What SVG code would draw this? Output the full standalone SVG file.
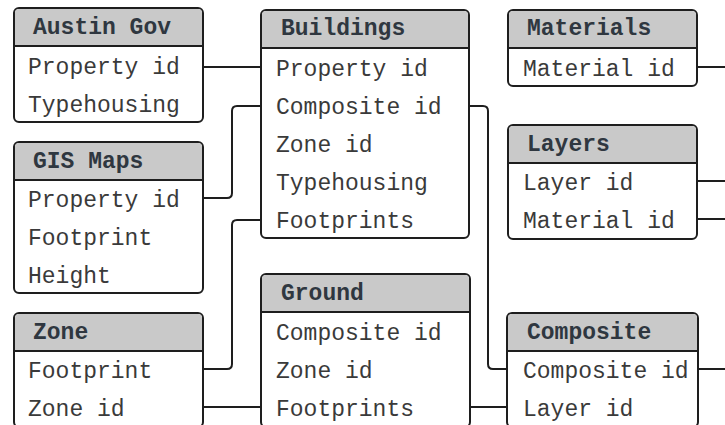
<svg xmlns="http://www.w3.org/2000/svg" width="725" height="425" viewBox="0 0 725 425">
  <style>
    .box { fill: #ffffff; stroke: #1e1e1e; stroke-width: 2; }
    .head { fill: #c9c9c9; }
    .sep { stroke: #1e1e1e; stroke-width: 2; }
    .title { font-family: "Liberation Mono", "DejaVu Sans Mono", monospace; font-size: 23px; font-weight: bold; fill: #2f3740; }
    .field { font-family: "Liberation Mono", "DejaVu Sans Mono", monospace; font-size: 23px; fill: #3a3a3a; }
    .link { fill: none; stroke: #1e1e1e; stroke-width: 2; }
  </style>
  <rect width="725" height="425" fill="#ffffff"/>

  <g id="connectors">
    <path class="link" d="M203,67 H261"/>
    <path class="link" d="M203,198 H227 Q232,198 232,193 V111 Q232,106 237,106 H261"/>
    <path class="link" d="M203,369 H227 Q232,369 232,364 V225 Q232,220 237,220 H261"/>
    <path class="link" d="M203,407 H261"/>
    <path class="link" d="M469,106 H483 Q488,106 488,111 V364 Q488,369 493,369 H507"/>
    <path class="link" d="M470,407 H507"/>
    <path class="link" d="M697,67 H725"/>
    <path class="link" d="M697,181 H725"/>
    <path class="link" d="M697,219 H725"/>
    <path class="link" d="M698,369 H725"/>
  </g>

  <g id="austin-gov">
    <rect class="box" x="14" y="8" width="189" height="114" rx="5"/>
    <path class="head" d="M15,46 V13 Q15,9 19,9 H198 Q202,9 202,13 V46 Z"/>
    <line class="sep" x1="14" y1="46" x2="203" y2="46"/>
    <text class="title" x="33" y="34">Austin Gov</text>
    <text class="field" x="28" y="74">Property id</text>
    <text class="field" x="28" y="112">Typehousing</text>
  </g>

  <g id="gis-maps">
    <rect class="box" x="14" y="142" width="189" height="151" rx="5"/>
    <path class="head" d="M15,180 V147 Q15,143 19,143 H198 Q202,143 202,147 V180 Z"/>
    <line class="sep" x1="14" y1="180" x2="203" y2="180"/>
    <text class="title" x="33" y="168">GIS Maps</text>
    <text class="field" x="28" y="207">Property id</text>
    <text class="field" x="28" y="245">Footprint</text>
    <text class="field" x="28" y="283">Height</text>
  </g>

  <g id="zone">
    <rect class="box" x="14" y="313" width="189" height="114" rx="5"/>
    <path class="head" d="M15,351 V318 Q15,314 19,314 H198 Q202,314 202,318 V351 Z"/>
    <line class="sep" x1="14" y1="351" x2="203" y2="351"/>
    <text class="title" x="33" y="339">Zone</text>
    <text class="field" x="28" y="378">Footprint</text>
    <text class="field" x="28" y="416">Zone id</text>
  </g>

  <g id="buildings">
    <rect class="box" x="261" y="10" width="208" height="228" rx="5"/>
    <path class="head" d="M262,48 V15 Q262,11 266,11 H464 Q468,11 468,15 V48 Z"/>
    <line class="sep" x1="261" y1="48" x2="469" y2="48"/>
    <text class="title" x="281" y="35">Buildings</text>
    <text class="field" x="276" y="76">Property id</text>
    <text class="field" x="276" y="114">Composite id</text>
    <text class="field" x="276" y="152">Zone id</text>
    <text class="field" x="276" y="190">Typehousing</text>
    <text class="field" x="276" y="228">Footprints</text>
  </g>

  <g id="ground">
    <rect class="box" x="261" y="274" width="209" height="153" rx="5"/>
    <path class="head" d="M262,312 V279 Q262,275 266,275 H465 Q469,275 469,279 V312 Z"/>
    <line class="sep" x1="261" y1="312" x2="470" y2="312"/>
    <text class="title" x="281" y="300">Ground</text>
    <text class="field" x="276" y="340">Composite id</text>
    <text class="field" x="276" y="378">Zone id</text>
    <text class="field" x="276" y="416">Footprints</text>
  </g>

  <g id="materials">
    <rect class="box" x="508" y="10" width="189" height="76" rx="5"/>
    <path class="head" d="M509,48 V15 Q509,11 513,11 H692 Q696,11 696,15 V48 Z"/>
    <line class="sep" x1="508" y1="48" x2="697" y2="48"/>
    <text class="title" x="527" y="35">Materials</text>
    <text class="field" x="523" y="76">Material id</text>
  </g>

  <g id="layers">
    <rect class="box" x="508" y="125" width="189" height="114" rx="5"/>
    <path class="head" d="M509,163 V130 Q509,126 513,126 H692 Q696,126 696,130 V163 Z"/>
    <line class="sep" x1="508" y1="163" x2="697" y2="163"/>
    <text class="title" x="527" y="151">Layers</text>
    <text class="field" x="523" y="190">Layer id</text>
    <text class="field" x="523" y="228">Material id</text>
  </g>

  <g id="composite">
    <rect class="box" x="507" y="313" width="191" height="114" rx="5"/>
    <path class="head" d="M508,351 V318 Q508,314 512,314 H693 Q697,314 697,318 V351 Z"/>
    <line class="sep" x1="507" y1="351" x2="698" y2="351"/>
    <text class="title" x="527" y="339">Composite</text>
    <text class="field" x="523" y="378">Composite id</text>
    <text class="field" x="523" y="416">Layer id</text>
  </g>
</svg>
